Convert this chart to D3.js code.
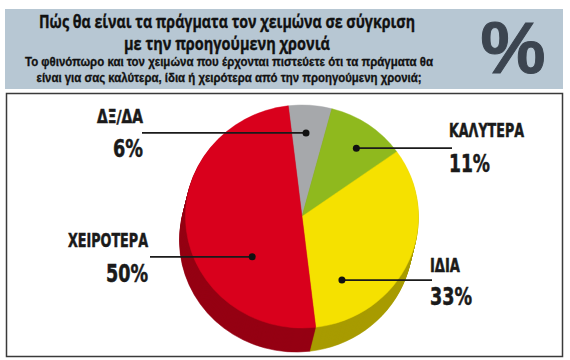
<!DOCTYPE html>
<html><head><meta charset="utf-8">
<script src="https://cdn.jsdelivr.net/npm/d3@7"></script>
<style>
html,body{margin:0;padding:0;background:#fff;}
svg{display:block;}
.lab{font-family:"DejaVu Sans Condensed","Liberation Sans Narrow","DejaVu Sans",sans-serif;font-weight:bold;fill:#1a1a1a;stroke:#1a1a1a;stroke-width:0.5;}
.hdr{font-family:"Open Sans","Noto Sans","DejaVu Sans",sans-serif;font-weight:bold;fill:#111;stroke:#111;stroke-width:0.35;}
.sub{font-family:"Liberation Sans","Arial",sans-serif;font-weight:bold;fill:#111;stroke:#111;stroke-width:0.3;}
</style></head>
<body>
<svg id="c" width="570" height="360"></svg>
<script>
// ---- data ----
const categories = ["ΔΞ/ΔΑ", "ΚΑΛΥΤΕΡΑ", "ΙΔΙΑ", "ΧΕΙΡΟΤΕΡΑ"];
const values = [6, 11, 33, 50];
const valueLabels = ["6%", "11%", "33%", "50%"];
const titleLines = ["Πώς θα είναι τα πράγματα τον χειμώνα σε σύγκριση", "με την προηγούμενη χρονιά"];
const subtitleLines = ["Το φθινόπωρο και τον χειμώνα που έρχονται πιστεύετε ότι τα πράγματα θα", "είναι για σας καλύτερα, ίδια ή χειρότερα από την προηγούμενη χρονιά;"];

// ---- styles / layout ----
const colors = ["#a6a8ab", "#8fb91e", "#f5e100", "#d9001c"];
const svg = d3.select("#c");

// header band
svg.append("rect").attr("x",5).attr("y",9).attr("width",558).attr("height",80).attr("fill","#b7c7d3");
const titleCfg = [{x:227,y:28,len:376,fs:17.5},{x:227,y:50,len:206,fs:17.5}];
titleLines.forEach((t,i)=>{
  svg.append("text").attr("class","hdr").attr("x",titleCfg[i].x).attr("y",titleCfg[i].y)
    .attr("text-anchor","middle").attr("font-size",titleCfg[i].fs)
    .attr("textLength",titleCfg[i].len).attr("lengthAdjust","spacingAndGlyphs").text(t);
});
const subCfg = [{x:229,y:66,len:408},{x:229,y:82,len:385}];
subtitleLines.forEach((t,i)=>{
  svg.append("text").attr("class","sub").attr("x",subCfg[i].x).attr("y",subCfg[i].y)
    .attr("text-anchor","middle").attr("font-size",12.5)
    .attr("textLength",subCfg[i].len).attr("lengthAdjust","spacingAndGlyphs").text(t);
});
svg.append("text").attr("x",513).attr("y",73).attr("text-anchor","middle")
  .attr("font-family","'Liberation Sans',Arial,sans-serif").attr("font-weight","bold")
  .attr("font-size",73).attr("fill","#3c4550").attr("stroke","#3c4550").attr("stroke-width",1).text("%");

// frame
svg.append("rect").attr("x",6.5).attr("y",93.5).attr("width",556).attr("height",263)
  .attr("fill","none").attr("stroke","#3a3a3a").attr("stroke-width",1.5);

// pie
const cx = 302, cy = 216.5, r = 116.5, sy = 111.5/116.5;
const start = -0.118;
const pie = d3.pie().sort(null).value(d=>d).startAngle(start).endAngle(start+2*Math.PI);
const arcs = pie(values);
const arc = d3.arc().innerRadius(0).outerRadius(r);

const depth = 24, dxTot = -6;
const sideG = svg.append("g");
for (let i = depth; i >= 1; i--) {
  const g = sideG.append("g").attr("transform",`translate(${cx + dxTot*i/depth},${cy + i}) scale(1,${sy})`);
  g.selectAll("path").data(arcs).join("path")
    .attr("d",arc).attr("fill",(d,j)=>d3.color(colors[j]).darker(1.05))
    .attr("stroke",(d,j)=>d3.color(colors[j]).darker(1.05)).attr("stroke-width",0.6);
}
const topG = svg.append("g").attr("transform",`translate(${cx},${cy}) scale(1,${sy})`);
topG.selectAll("path").data(arcs).join("path").attr("d",arc).attr("fill",(d,j)=>colors[j])
  .attr("stroke",(d,j)=>colors[j]).attr("stroke-width",0.5);

// leader dots (polar position on pie face) & labels
const dotPolar = [{a:0.046,f:0.75},{a:0.651,f:0.77},{a:2.60,f:0.665},{a:4.01,f:0.56}];
const labelCfg = [
  {lineEnd:142, anchor:"end",   tx:143, ny:123, vy:157, nl:46, vl:30},
  {lineEnd:452, anchor:"start", tx:449, ny:137, vy:172, nl:75, vl:41},
  {lineEnd:432, anchor:"start", tx:430, ny:272, vy:305, nl:30, vl:42},
  {lineEnd:150, anchor:"end",   tx:148, ny:247, vy:282, nl:80, vl:42}
];
arcs.forEach((a,j)=>{
  const dp = dotPolar[j];
  const px = cx + Math.sin(dp.a)*r*dp.f;
  const py = cy - Math.cos(dp.a)*r*dp.f*sy;
  const lc = labelCfg[j];
  svg.append("line").attr("x1",px).attr("y1",py).attr("x2",lc.lineEnd).attr("y2",py)
    .attr("stroke","#1a1a1a").attr("stroke-width",1.7);
  svg.append("circle").attr("cx",px).attr("cy",py).attr("r",3.5).attr("fill","#111");
  svg.append("text").attr("class","lab").attr("x",lc.tx).attr("y",lc.ny).attr("text-anchor",lc.anchor)
    .attr("font-size",18.5).attr("textLength",lc.nl).attr("lengthAdjust","spacingAndGlyphs").text(categories[j]);
  svg.append("text").attr("class","lab").attr("x",lc.tx).attr("y",lc.vy).attr("text-anchor",lc.anchor)
    .attr("font-size",25).attr("textLength",lc.vl).attr("lengthAdjust","spacingAndGlyphs").text(valueLabels[j]);
});
</script>
</body></html>
